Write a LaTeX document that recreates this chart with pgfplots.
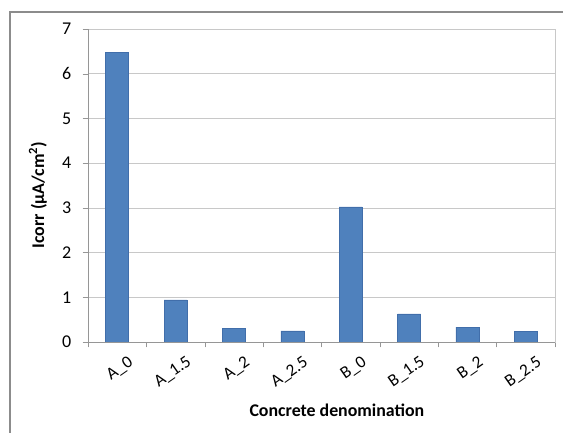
\documentclass[border=0pt]{standalone}
\usepackage{pgfplots}
\pgfplotsset{compat=1.18}
\usepackage{fontspec}
\setmainfont{Carlito}
\definecolor{barblue}{RGB}{79,129,189}
\definecolor{bardark}{RGB}{65,110,170}
\definecolor{gridgray}{RGB}{200,200,200}
\definecolor{axgray}{RGB}{150,150,150}
\definecolor{framegray}{RGB}{140,140,140}
\begin{document}
\begin{tikzpicture}
\path[use as bounding box] (0,0) rectangle (422.25pt,324pt);
\draw[framegray, line width=0.8pt] (7.5pt,-5pt) rectangle (430pt,315pt);
\begin{axis}[
  at={(66pt,67.5pt)}, anchor=south west,
  scale only axis, width=350.25pt, height=234.75pt,
  xmin=-0.5, xmax=7.5, ymin=0, ymax=7,
  ytick={0,...,7},
  xtick={0,...,7},
  xticklabels={A\_0,A\_1.5,A\_2,A\_2.5,B\_0,B\_1.5,B\_2,B\_2.5},
  minor xtick={-0.5,0.5,...,7.5},
  major x tick style={draw=none},
  minor x tick style={axgray},
  minor tick length=4pt,
  major tick length=4pt,
  tick align=outside,
  xtick pos=bottom, ytick pos=left,
  y tick style={axgray},
  axis line style={gridgray},
  ymajorgrids, grid style={gridgray},
  xticklabel style={rotate=35, anchor=north east, inner sep=0pt, yshift=-9pt, xshift=3pt, font=\fontsize{13}{15}\selectfont},
  yticklabel style={font=\fontsize{13.5}{15}\selectfont, xshift=-5pt},
  xlabel={\textbf{Concrete denomination}},
  ylabel={\textbf{Icorr (µA/cm\textsuperscript{2})}},
  label style={font=\fontsize{13.4}{15}\selectfont},
  xlabel style={at={(axis description cs:0.533,-0.217)}, anchor=center},
  ylabel style={at={(axis description cs:-0.107,0.47)}, anchor=center, rotate=0},
  ybar, bar width=17.25pt,
  /pgf/number format/assume math mode=true,
  clip=false,
]
\addplot[fill=barblue, draw=bardark, line width=0.4pt] coordinates {
 (0,6.48) (1,0.94) (2,0.31) (3,0.25) (4,3.02) (5,0.63) (6,0.33) (7,0.23)};
\draw[axgray, line width=0.5pt] (axis cs:-0.5,0) -- (axis cs:-0.5,7);
\draw[axgray, line width=0.5pt] (axis cs:-0.5,0) -- (axis cs:7.5,0);
\end{axis}
\end{tikzpicture}
\end{document}
